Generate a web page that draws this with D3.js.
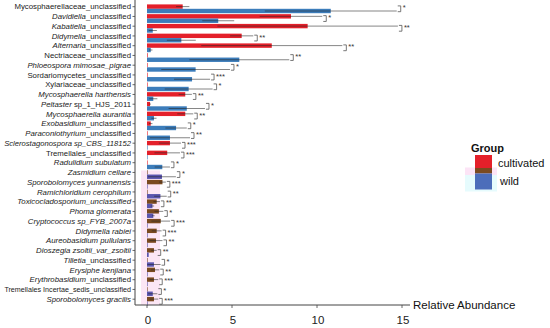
<!DOCTYPE html>
<html><head><meta charset="utf-8">
<script src="https://cdn.jsdelivr.net/npm/d3@7"></script>
<style>body{margin:0;background:#fff}svg{display:block;font-family:"Liberation Sans",Arial,sans-serif}</style>
</head><body><svg id="c" width="550" height="328"></svg>
<script>
const labelItalic = ["", "Davidiella", "Kabatiella", "Didymella", "Alternaria", "", "Phloeospora mimosae_pigrae", "", "", "Mycosphaerella harthensis", "Peltaster", "Mycosphaerella aurantia", "Exobasidium", "Paraconiothyrium", "Sclerostagonospora sp_CBS_118152", "", "Radulidium subulatum", "Zasmidium cellare", "Sporobolomyces yunnanensis", "Ramichloridium cerophilum", "Toxicocladosporium_unclassified", "Phoma glomerata", "Cryptococcus sp_FYB_2007a", "Didymella rabiei", "Aureobasidium pullulans", "Dioszegia zsoltii_var_zsoltii", "Tilletia", "Erysiphe kenjiana", "Erythrobasidium", "", "Sporobolomyces gracilis"];
const labelPlain = ["Mycosphaerellaceae_unclassified", "_unclassified", "_unclassified", "_unclassified", "_unclassified", "Nectriaceae_unclassified", "", "Sordariomycetes_unclassified", "Xylariaceae_unclassified", "", " sp_1_HJS_2011", "", "_unclassified", "_unclassified", "", "Tremellales_unclassified", "", "", "", "", "", "", "", "", "", "", "_unclassified", "", "_unclassified", "Tremellales Incertae_sedis_unclassified", ""];
const cultivated = [2.10, 8.47, 9.45, 5.57, 7.34, 0.04, 0.03, 0.03, 0.03, 2.25, 0.18, 2.25, 0.22, 0.03, 1.35, 1.19, 0.02, 0.02, 0.91, 0.02, 0.57, 0.70, 0.81, 0.57, 0.53, 0.41, 0.02, 0.47, 0.41, 0.02, 0.41];
const cultivatedErr = [0.39, 1.84, 5.31, 0.68, 4.15, 0, 0, 0, 0, 0.39, 0.05, 0.47, 0.10, 0, 0.65, 0.75, 0, 0, 0.20, 0, 0.19, 0.26, 0.55, 0.29, 0.38, 0.16, 0, 0.25, 0.25, 0, 0.25];
const wild = [10.81, 4.19, 0.34, 2.02, 0.22, 5.43, 2.86, 2.65, 2.45, 0.37, 2.34, 0.41, 1.71, 1.35, 0.03, 0.02, 0.90, 0.88, 0.02, 0.79, 0.32, 0.37, 0.03, 0.02, 0.03, 0.10, 0.41, 0.02, 0.02, 0.34, 0.02];
const wildErr = [3.88, 0.94, 0.24, 0.85, 0.10, 2.94, 2.02, 1.06, 1.41, 0.24, 1.07, 0.15, 0.63, 1.18, 0, 0, 0.45, 0.82, 0, 0.37, 0.10, 0.08, 0, 0, 0, 0, 0.39, 0, 0, 0.27, 0];
const stars = ["*", "*", "**", "**", "**", "**", "*", "***", "*", "**", "*", "**", "*", "**", "***", "***", "*", "*", "***", "**", "**", "*", "***", "***", "**", "**", "*", "**", "***", "*", "***"];
const xTicks = [0, 5, 10, 15];
const groups = ["cultivated", "wild"];
const tintFrom = 17; // rows drawn under the pink overlay

const svg = d3.select("#c");
const n = labelPlain.length;
const x = d3.scaleLinear().domain([0, 15]).range([147, 402]);
const y = d3.scaleLinear().domain([0, n - 1]).range([6.7, 299.2]);
const bh = 4.4;
const col = {cultivated: "#E4202A", wild: "#3C7DBB", cultivatedT: "#7A4A20", wildT: "#5A55AE"};

svg.append("rect").attr("x", 141).attr("y", y(tintFrom) - 2).attr("width", 19).attr("height", 305 - y(tintFrom) + 2)
  .attr("fill", "#FCE6F5");

const rows = d3.range(n);
rows.forEach(i => {
  const c = y(i);
  const tint = i >= tintFrom;
  svg.append("rect").attr("x", x(0)).attr("y", c - 2.3).attr("width", Math.max(0.6, x(cultivated[i]) - x(0))).attr("height", bh)
    .attr("fill", tint ? col.cultivatedT : col.cultivated);
  svg.append("rect").attr("x", x(0)).attr("y", c - 2.3 + bh).attr("width", Math.max(0.6, x(wild[i]) - x(0))).attr("height", bh)
    .attr("fill", tint ? col.wildT : col.wild);
  [[cultivated[i], cultivatedErr[i], c - 0.1], [wild[i], wildErr[i], c + 4.3]].forEach(([v, e, yy]) => {
    if (e > 0) {
      svg.append("line").attr("x1", x(Math.max(0, v - e))).attr("x2", x(v + e)).attr("y1", yy).attr("y2", yy)
        .attr("stroke", "#222").attr("stroke-opacity", 0.55).attr("stroke-width", 1);
    }
  });
  const bx = Math.max(x(cultivated[i] + cultivatedErr[i]), x(wild[i] + wildErr[i])) + 4;
  svg.append("path").attr("d", `M${bx - 3},${c - 0.8}H${bx}V${c + 5}H${bx - 3}`)
    .attr("fill", "none").attr("stroke", "#555").attr("stroke-width", 0.8);
  svg.append("text").attr("x", bx + 2).attr("y", c + 3.6).attr("font-size", 7.5).attr("fill", "#333").text(stars[i]);
});

svg.append("line").attr("x1", 135).attr("x2", 135).attr("y1", 0).attr("y2", 305).attr("stroke", "#444").attr("stroke-width", 1);
rows.forEach(i => {
  svg.append("line").attr("x1", 132.5).attr("x2", 135).attr("y1", y(i)).attr("y2", y(i)).attr("stroke", "#444").attr("stroke-width", 0.8);
  const t = svg.append("text").attr("x", 131).attr("y", y(i)).attr("dy", "0.35em").attr("text-anchor", "end")
    .attr("font-size", 7.8).attr("fill", "#222");
  if (labelItalic[i]) t.append("tspan").attr("font-style", "italic").text(labelItalic[i]);
  if (labelPlain[i]) t.append("tspan").text(labelPlain[i]);
  const w = t.node().getComputedTextLength();
  if (w > 127) t.attr("font-size", 7.8 * 127 / w);
});

svg.append("line").attr("x1", 135).attr("x2", 410).attr("y1", 305).attr("y2", 305).attr("stroke", "#444").attr("stroke-width", 1);
xTicks.forEach(v => {
  svg.append("line").attr("x1", x(v)).attr("x2", x(v)).attr("y1", 305).attr("y2", 308).attr("stroke", "#444").attr("stroke-width", 0.8);
  svg.append("text").attr("x", x(v) + 1).attr("y", 324).attr("text-anchor", "middle").attr("font-size", 11.5).attr("fill", "#222").text(v);
});
svg.append("text").attr("x", 413).attr("y", 305).attr("dy", "0.35em").attr("font-size", 11.5).attr("fill", "#111").text("Relative Abundance");

svg.append("text").attr("x", 471).attr("y", 151.5).attr("font-size", 11).attr("font-weight", "bold").attr("fill", "#111").text("Group");
svg.append("rect").attr("x", 465).attr("y", 167.5).attr("width", 32).attr("height", 7.5).attr("fill", "#FCE4F6");
svg.append("rect").attr("x", 465).attr("y", 175).attr("width", 32).attr("height", 16.5).attr("fill", "#E6FBFD");
svg.append("rect").attr("x", 475).attr("y", 155).attr("width", 17).attr("height", 13).attr("fill", col.cultivated);
svg.append("rect").attr("x", 475).attr("y", 168).attr("width", 17).attr("height", 5.5).attr("fill", col.cultivatedT);
svg.append("rect").attr("x", 475).attr("y", 173.5).attr("width", 17).attr("height", 16).attr("fill", "#4C6DBA");
svg.append("text").attr("x", 498).attr("y", 166.5).attr("font-size", 11).attr("fill", "#111").text(groups[0]);
svg.append("text").attr("x", 500).attr("y", 185).attr("font-size", 11).attr("fill", "#111").text(groups[1]);
</script></body></html>
